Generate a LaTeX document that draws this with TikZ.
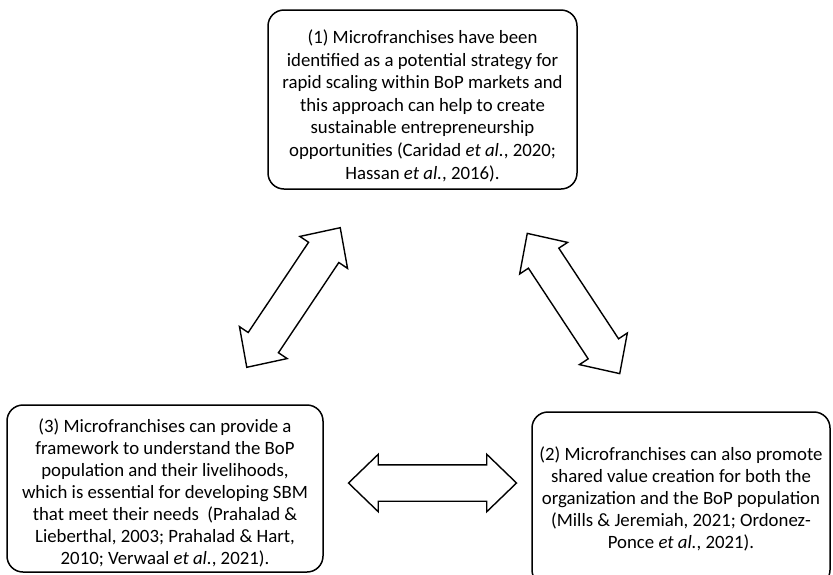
\documentclass[tikz,border=0pt]{standalone}
\usepackage{fontspec}
\setmainfont{Carlito}
\usepackage{tikz}
\usetikzlibrary{shapes.arrows}

\begin{document}
\begin{tikzpicture} [x=1pt, y=-1pt,
    box/.style={draw, line width=1.5pt, rounded corners=16pt, align=center, inner sep=2pt, font=\fontsize{18.8}{22}\selectfont},
    twoway/.style={draw, line width=1.4pt, double arrow, double arrow head extend=10.5pt, double arrow tip angle=88, inner sep=17.5pt, minimum height=168pt}
  ]
  \useasboundingbox (0,0) rectangle (833,574);
  % boxes (the rule pushes the text a bit down)
  \node[box, minimum width=309pt, minimum height=179pt, font=\fontsize{18.8}{22.6}\selectfont] (mf1) at (422.5,99.5) {\rule{0pt}{26pt}(1) Microfranchises have been\\identified as a potential strategy for\\rapid scaling within BoP markets and\\this approach can help to create\\sustainable entrepreneurship\\opportunities (Caridad \textit{et al.}, 2020;\\Hassan \textit{et al.}, 2016).};
  \node[box, minimum width=298pt, minimum height=174pt] (mf2) at (681,499) {(2) Microfranchises can also promote\\shared value creation for both the\\organization and the BoP population\\(Mills \& Jeremiah, 2021; Ordonez-\\Ponce \textit{et al.}, 2021).};
  \node[box, minimum width=316pt, minimum height=167pt] (mf3) at (165,488.5) {\rule{0pt}{22pt}(3) Microfranchises can provide a\\framework to understand the BoP\\population and their livelihoods,\\which is essential for developing SBM\\that meet their needs~ (Prahalad \&\\Lieberthal, 2003; Prahalad \& Hart,\\2010; Verwaal \textit{et al.}, 2021).};
  % arrows
  \node[twoway, rotate=56.2] (mf13) at (293.5,297.5) {};
  \node[twoway, rotate=-56.6] (mf12) at (573.5,303.5) {};
  \node[twoway] (mf32) at (432.5,483) {};
\end{tikzpicture}
\end{document}
